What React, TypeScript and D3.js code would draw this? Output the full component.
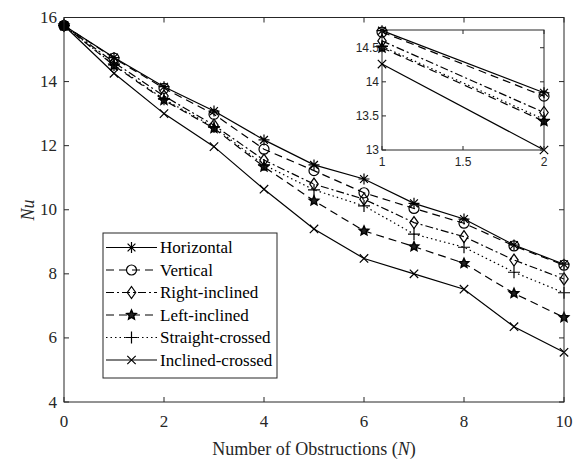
import React from "react";
import * as d3 from "d3";

const obstructions: number[] = [0, 1, 2, 3, 4, 5, 6, 7, 8, 9, 10];
const seriesNames: string[] = [
  "Horizontal",
  "Vertical",
  "Right-inclined",
  "Left-inclined",
  "Straight-crossed",
  "Inclined-crossed",
];
const horizontal: number[] = [15.75, 14.75, 13.84, 13.08, 12.18, 11.4, 10.96, 10.2, 9.71, 8.9, 8.3];
const vertical: number[] = [15.75, 14.73, 13.79, 12.98, 11.89, 11.22, 10.53, 10.04, 9.58, 8.87, 8.27];
const rightInclined: number[] = [15.75, 14.6, 13.55, 12.64, 11.55, 10.8, 10.33, 9.6, 9.16, 8.43, 7.84];
const leftInclined: number[] = [15.75, 14.5, 13.42, 12.54, 11.34, 10.28, 9.34, 8.85, 8.33, 7.39, 6.64];
const straightCrossed: number[] = [15.75, 14.52, 13.45, 12.58, 11.4, 10.62, 10.12, 9.24, 8.83, 8.05, 7.41];
const inclinedCrossed: number[] = [15.75, 14.26, 13.0, 11.97, 10.64, 9.4, 8.48, 8.0, 7.52, 6.35, 5.55];

const xTicks: number[] = [0, 2, 4, 6, 8, 10];
const yTicks: number[] = [4, 6, 8, 10, 12, 14, 16];
const insetXTicks: number[] = [1, 1.5, 2];
const insetYTicks: number[] = [13, 13.5, 14, 14.5];

const allSeries = [horizontal, vertical, rightInclined, leftInclined, straightCrossed, inclinedCrossed];
const markers = ["asterisk", "circle", "diamond", "star", "plus", "cross"];
const dashes = ["", "8,5", "8,3,2,3", "8,5", "1.5,3", ""];

const AXIS = "#262626";
const SERIF = "'Liberation Serif', 'Times New Roman', serif";
const SANS = "'Liberation Sans', Arial, sans-serif";

const Marker: React.FC<{ type: string; x: number; y: number }> = ({ type, x, y }) => {
  const p = { stroke: "#000", strokeWidth: 1.2, fill: "none" };
  if (type === "asterisk") {
    const r = 5.5, d = 3.9;
    return (
      <path {...p} d={`M${x - r},${y}H${x + r}M${x},${y - r}V${y + r}M${x - d},${y - d}L${x + d},${y + d}M${x - d},${y + d}L${x + d},${y - d}`} />
    );
  }
  if (type === "circle") return <circle {...p} cx={x} cy={y} r={5} />;
  if (type === "diamond") {
    const r = 6;
    return <path {...p} d={`M${x},${y - r}L${x + r * 0.7},${y}L${x},${y + r}L${x - r * 0.7},${y}Z`} />;
  }
  if (type === "star") {
    const pts: string[] = [];
    for (let i = 0; i < 10; i++) {
      const a = -Math.PI / 2 + (i * Math.PI) / 5;
      const rr = i % 2 === 0 ? 5 : 2.3;
      pts.push(`${x + rr * Math.cos(a)},${y + rr * Math.sin(a)}`);
    }
    return <polygon stroke="#000" strokeWidth={1.4} fill="#222" points={pts.join(" ")} />;
  }
  if (type === "plus") {
    const r = 6;
    return <path {...p} d={`M${x - r},${y}H${x + r}M${x},${y - r}V${y + r}`} />;
  }
  const r = 4.2;
  return <path {...p} d={`M${x - r},${y - r}L${x + r},${y + r}M${x - r},${y + r}L${x + r},${y - r}`} />;
};

const App: React.FC = () => {
  const x = d3.scaleLinear().domain([0, 10]).range([64, 564]);
  const y = d3.scaleLinear().domain([4, 16]).range([402, 17.5]);
  const ix = d3.scaleLinear().domain([1, 2]).range([382, 544]);
  const iy = d3.scaleLinear().domain([13, 14.76]).range([150, 30]);

  const line = d3
    .line<number>()
    .x((_, i) => x(obstructions[i]))
    .y((d) => y(d));

  const insetIdx = [1, 2];
  const insetLine = d3
    .line<number>()
    .x((i) => ix(obstructions[i]))
    .y((i) => i);

  const tl = 5;

  return (
    <div style={{ position: "absolute", left: 0, top: 0 }}>
      <svg width={576} height={464} style={{ display: "block", background: "#fff" }}>
        {/* main series */}
        {allSeries.map((s, k) => (
          <g key={k}>
            <path d={line(s) || ""} fill="none" stroke="#000" strokeWidth={1.2} strokeDasharray={dashes[k]} />
            {s.map((v, i) => (
              <Marker key={i} type={markers[k]} x={x(obstructions[i])} y={y(v)} />
            ))}
          </g>
        ))}
        {/* filled start point */}
        <circle cx={x(0)} cy={y(horizontal[0])} r={5.5} fill="#000" />

        {/* main axes box */}
        <rect x={64} y={17.5} width={500} height={384.5} fill="none" stroke={AXIS} strokeWidth={1} />
        {xTicks.map((t) => (
          <g key={t}>
            <line x1={x(t)} x2={x(t)} y1={402} y2={402 - tl} stroke={AXIS} />
            <line x1={x(t)} x2={x(t)} y1={17.5} y2={17.5 + tl} stroke={AXIS} />
            <text x={x(t)} y={427} textAnchor="middle" fontFamily={SERIF} fontSize={17} fill={AXIS}>
              {t}
            </text>
          </g>
        ))}
        {yTicks.map((t) => (
          <g key={t}>
            <line x1={64} x2={64 + tl} y1={y(t)} y2={y(t)} stroke={AXIS} />
            <line x1={564} x2={564 - tl} y1={y(t)} y2={y(t)} stroke={AXIS} />
            <text x={57} y={y(t) + 5.5} textAnchor="end" fontFamily={SERIF} fontSize={17} fill={AXIS}>
              {t}
            </text>
          </g>
        ))}
        <text x={314} y={455} textAnchor="middle" fontFamily={SERIF} fontSize={18} fill={AXIS}>
          Number of Obstructions (<tspan fontStyle="italic">N</tspan>)
        </text>
        <text
          transform="translate(34,210) rotate(-90)"
          textAnchor="middle"
          fontFamily={SERIF}
          fontSize={18}
          fontStyle="italic"
          fill={AXIS}
        >
          Nu
        </text>

        {/* legend */}
        <rect x={103} y={233} width={174} height={145} fill="#fff" stroke={AXIS} strokeWidth={1} />
        {seriesNames.map((name, k) => {
          const cy = 247.5 + k * 22.5;
          return (
            <g key={name}>
              <line x1={106} x2={157} y1={cy} y2={cy} stroke="#000" strokeWidth={1.2} strokeDasharray={dashes[k]} />
              <Marker type={markers[k]} x={131.5} y={cy} />
              <text x={160} y={cy + 5.5} fontFamily={SERIF} fontSize={17} fill="#000">
                {name}
              </text>
            </g>
          );
        })}

        {/* inset */}
        <rect x={382} y={30} width={162} height={120} fill="#fff" stroke={AXIS} strokeWidth={1} />
        {allSeries.map((s, k) => (
          <g key={k}>
            <path
              d={insetLine.y((i) => iy(s[i]))(insetIdx) || ""}
              fill="none"
              stroke="#000"
              strokeWidth={1.2}
              strokeDasharray={dashes[k]}
            />
            {insetIdx.map((i) => (
              <Marker key={i} type={markers[k]} x={ix(obstructions[i])} y={iy(s[i])} />
            ))}
          </g>
        ))}
        {insetXTicks.map((t) => (
          <g key={t}>
            <line x1={ix(t)} x2={ix(t)} y1={150} y2={146} stroke={AXIS} />
            <line x1={ix(t)} x2={ix(t)} y1={30} y2={34} stroke={AXIS} />
            <text x={ix(t)} y={166} textAnchor="middle" fontFamily={SANS} fontSize={12} fill={AXIS}>
              {t}
            </text>
          </g>
        ))}
        {insetYTicks.map((t) => (
          <g key={t}>
            <line x1={382} x2={386} y1={iy(t)} y2={iy(t)} stroke={AXIS} />
            <line x1={544} x2={540} y1={iy(t)} y2={iy(t)} stroke={AXIS} />
            <text x={379} y={iy(t) + 4} textAnchor="end" fontFamily={SANS} fontSize={12} fill={AXIS}>
              {t}
            </text>
          </g>
        ))}
      </svg>
    </div>
  );
};

export default App;
